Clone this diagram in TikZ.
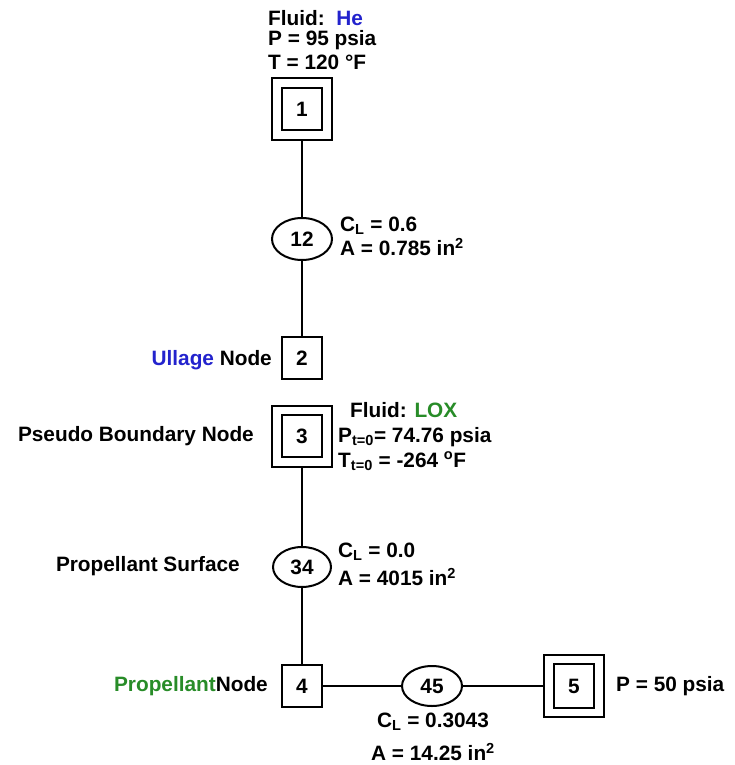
\documentclass[tikz,border=0pt]{standalone}
\usepackage{fontspec}
\setmainfont{Liberation Sans}
\usetikzlibrary{shapes.geometric}
\definecolor{hblue}{RGB}{35,35,205}
\definecolor{lgreen}{RGB}{40,140,40}
\newcommand{\lbfont}{\bfseries\fontsize{20.8}{23}\selectfont}
\tikzset{
  lbl/.style={font=\lbfont, inner sep=0pt, anchor=west},
  lble/.style={font=\lbfont, inner sep=0pt, anchor=east},
  lblc/.style={font=\lbfont, inner sep=0pt, anchor=center},
  outerbox/.style={draw, line width=2pt, minimum width=60pt, minimum height=61pt, inner sep=0pt},
  innerbox/.style={draw, line width=2pt, minimum width=40pt, minimum height=42pt, inner sep=0pt, font=\lbfont},
  ellnode/.style={draw, ellipse, line width=2pt, minimum width=60pt, minimum height=42pt, inner sep=0pt, font=\lbfont},
  conn/.style={line width=2pt}
}
\begin{document}
\begin{tikzpicture}[x=1pt,y=-1pt]
\useasboundingbox (0,0) rectangle (734,765);
% nodes
\node[outerbox] (b1) at (302,109) {};
\node[innerbox] (b1i) at (302,109) {1};
\node[ellnode] (e12) at (302,239) {12};
\node[innerbox] (b2) at (302,358) {2};
\node[outerbox] (b3) at (302,436) {};
\node[innerbox] (b3i) at (302,436) {3};
\node[ellnode, minimum width=58pt, minimum height=40pt] (e34) at (302,567) {34};
\node[innerbox] (b4) at (302,686) {4};
\node[ellnode, minimum height=40pt] (e45) at (432,686) {45};
\node[outerbox, minimum height=62pt] (b5) at (574,686) {};
\node[innerbox, minimum height=44pt] (b5i) at (574,686) {5};
% connectors
\draw[conn] (b1) -- (e12);
\draw[conn] (e12) -- (b2);
\draw[conn] (b3) -- (e34);
\draw[conn] (e34) -- (b4);
\draw[conn] (b4) -- (e45);
\draw[conn] (e45) -- (b5);
% labels
\node[lbl] (t1a) at (268,18) {Fluid:\ \ \textcolor{hblue}{He}};
\node[lbl] (t1b) at (268,40) {P = 95 psia};
\node[lbl] (t1c) at (268,62) {T = 120 °F};
\node[lbl] (t12a) at (340,226) {C\textsubscript{L} = 0.6};
\node[lbl] (t12b) at (340,247) {A = 0.785 in\textsuperscript{2}};
\node[lble] (t2) at (272,360) {\textcolor{hblue}{Ullage} Node};
\node[lble] (t3) at (254,436) {Pseudo Boundary Node};
\node[lbl] (t3a) at (350,410) {Fluid: \textcolor{lgreen}{LOX}};
\node[lbl] (t3b) at (338,437) {P\textsubscript{t=0}= 74.76 psia};
\node[lbl] (t3c) at (338,461) {T\textsubscript{t=0} = -264 \textsuperscript{o}F};
\node[lble] (t34) at (240,566) {Propellant Surface};
\node[lbl] (t34a) at (338,552) {C\textsubscript{L} = 0.0};
\node[lbl] (t34b) at (338,577) {A = 4015 in\textsuperscript{2}};
\node[lble] (t4) at (268,686) {\textcolor{lgreen}{Propellant}Node};
\node[lblc] (t45a) at (433,722) {C\textsubscript{L} = 0.3043};
\node[lblc] (t45b) at (433,752) {A = 14.25 in\textsuperscript{2}};
\node[lbl] (t5) at (616,686) {P = 50 psia};
\end{tikzpicture}
\end{document}
